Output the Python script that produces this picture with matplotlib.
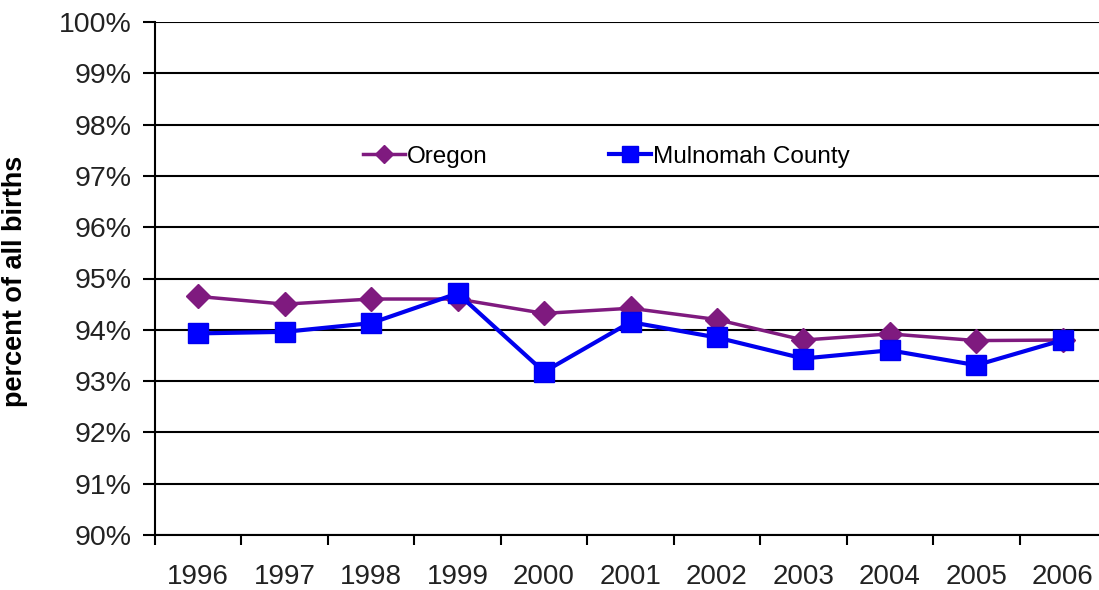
import matplotlib
matplotlib.use("Agg")
import matplotlib.pyplot as plt
from matplotlib.ticker import FixedLocator

years = ["1996", "1997", "1998", "1999", "2000", "2001", "2002", "2003", "2004", "2005", "2006"]
oregon = [94.65, 94.50, 94.60, 94.60, 94.32, 94.42, 94.20, 93.80, 93.92, 93.79, 93.80]
mulnomah = [93.93, 93.96, 94.13, 94.71, 93.18, 94.15, 93.85, 93.44, 93.60, 93.31, 93.80]
yticks = list(range(90, 101))

plt.rcParams['font.family'] = ['Liberation Sans', 'DejaVu Sans']

fig = plt.figure(figsize=(10.99, 5.90), dpi=100)
ax = fig.add_axes([155/1099, 55/590, 951/1099, 513/590])

x = list(range(len(years)))
ax.plot(x, oregon, color='#7f1a7f', lw=2.5, marker='D', ms=12, mfc='#7f1a7f',
        mec='#7f1a7f', label='Oregon', zorder=3)
ax.plot(x, mulnomah, color='#0000ee', lw=3, marker='s', ms=15, mfc='#0000ff',
        mec='#0000ee', label='Mulnomah County', zorder=4)

ax.set_xlim(-0.5, len(years) - 0.5)
ax.set_ylim(90, 100)
ax.set_yticks(yticks)
ax.set_yticklabels([f"{v}%" for v in yticks])
ax.set_xticks(x)
ax.set_xticklabels(years)
ax.xaxis.set_minor_locator(FixedLocator([i - 0.5 for i in range(len(years) + 1)]))
ax.tick_params(axis='x', which='major', length=0, pad=21, labelsize=20, labelcolor='#222222')
ax.tick_params(axis='x', which='minor', length=7, width=1.5, direction='out')
ax.tick_params(axis='y', length=9, width=1.5, direction='out', pad=8, labelsize=20.5,
               labelcolor='#222222')

ax.grid(axis='y', color='black', lw=1.5, zorder=1)
for s in ['top', 'right']:
    ax.spines[s].set_visible(False)
ax.spines['left'].set_linewidth(1.5)
ax.spines['bottom'].set_linewidth(1.5)

ax.set_ylabel('percent of all births', fontsize=19.5, fontweight='bold')
ax.yaxis.set_label_coords(-0.134, 0.495)

ax.legend(loc='center', bbox_to_anchor=(0.475, 0.737), ncol=2, frameon=False,
          fontsize=17.5, columnspacing=5.0, handlelength=1.7, handletextpad=0.1,
          markerscale=0.8)

fig.savefig('out.png', dpi=100)
